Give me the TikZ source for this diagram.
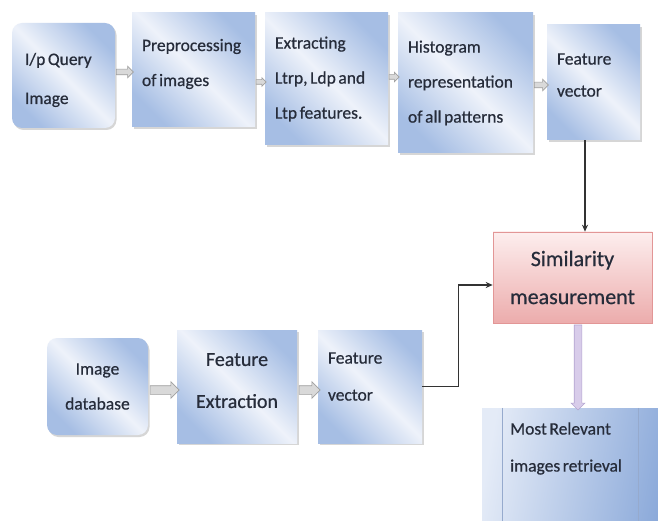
\documentclass[tikz,border=0pt]{standalone}
\usepackage{fontspec}
\setmainfont{Carlito}[FakeBold=0.6, WordSpace=0.65]
\usetikzlibrary{shapes.arrows,shadows,arrows.meta}
\definecolor{bdark}{RGB}{166,190,228}
\definecolor{blight}{RGB}{238,242,250}
\definecolor{txt}{RGB}{38,44,58}
\definecolor{pinktop}{RGB}{253,238,238}
\definecolor{pinkbot}{RGB}{236,172,172}
\definecolor{pinkline}{RGB}{226,150,150}
\definecolor{lavfill}{RGB}{216,204,234}
\definecolor{lavline}{RGB}{180,165,208}
\definecolor{relline}{RGB}{150,170,205}
\definecolor{relleft}{RGB}{228,235,247}
\definecolor{relright}{RGB}{140,170,218}
\begin{document}
\begin{tikzpicture}[x=1pt,y=-1pt,
  box/.style={shade, top color=bdark, bottom color=bdark, middle color=blight,
    shading angle=-45, inner sep=0pt, align=left, text=txt,
    font=\fontsize{17.5}{35}\selectfont,
    execute at begin node={\spaceskip=0pt\xspaceskip=0pt\relax},
    drop shadow={shadow xshift=1.5pt, shadow yshift=-2pt, fill=black!40, opacity=0.4}},
  simbox/.style={shade, top color=pinktop, bottom color=pinkbot, draw=pinkline,
    line width=0.6pt, inner sep=0pt, align=center, text=txt,
    font=\fontsize{22}{38}\selectfont},
  relbox/.style={shade, left color=relleft, right color=relright, shading angle=80, inner sep=0pt},
  barrow/.style={single arrow, single arrow head indent=0pt, fill=gray!30, draw=gray!75,
    line width=0.6pt, inner sep=2.5pt, single arrow head extend=3pt},
  varrow/.style={single arrow, single arrow head indent=0pt, fill=lavfill, draw=lavline,
    line width=0.6pt, inner sep=3.5pt, single arrow head extend=3pt, shape border rotate=270},
  conn/.style={draw=black!80, line width=1.1pt, -{Stealth[length=7pt,width=6pt]}}
]
\clip (0,0) rectangle (658,521);
\fill[white] (0,0) rectangle (658,521);

% top row
\node[box, rounded corners=10pt, minimum width=103pt, minimum height=105pt, text width=77pt,
  font=\fontsize{17.5}{39}\selectfont, text height=21pt]
  (q) at (63.5,75.5) {I/p Query\\Image};
\node[box, minimum width=123pt, minimum height=114pt, text width=103pt, text depth=50pt]
  (pre) at (193.5,70) {Preprocessing\\of images};
\node[box, minimum width=123pt, minimum height=132pt, text width=103pt]
  (ext) at (326.5,79) {Extracting\\Ltrp, Ldp and\\Ltp features.};
\node[box, minimum width=135pt, minimum height=140pt, text width=115pt]
  (hist) at (465.5,83) {Histogram\\representation\\of all patterns};
\node[box, minimum width=93pt, minimum height=115pt, text width=73pt,
  font=\fontsize{17.5}{32}\selectfont, text depth=47pt]
  (fv1) at (593.5,82.5) {Feature\\vector};

% similarity
\node[simbox, minimum width=159pt, minimum height=91pt]
  (sim) at (572.5,277.5) {Similarity\\measurement};

% bottom row
\node[box, rounded corners=10pt, align=center, minimum width=101pt, minimum height=97pt, text width=81pt]
  (db) at (97.5,386.5) {Image\\database};
\node[box, align=center, minimum width=120pt, minimum height=113pt, text width=100pt,
  font=\fontsize{20}{42}\selectfont, text depth=54pt]
  (fe) at (237,386.5) {Feature\\Extraction};
\node[box, minimum width=104pt, minimum height=113pt, text width=84pt,
  font=\fontsize{17.5}{37}\selectfont, text depth=57pt]
  (fv2) at (370,386.5) {Feature\\vector};

% result
\node[relbox, minimum width=186pt, minimum height=127pt] (rel) at (575,471.5) {};
\draw[relline, line width=0.6pt] ([xshift=20pt]rel.north west) -- ([xshift=20pt]rel.south west);
\draw[relline, line width=0.6pt] ([xshift=156pt]rel.north west) -- ([xshift=156pt]rel.south west);
\node[anchor=west, align=left, inner sep=0pt, text=txt, font=\fontsize{17.5}{37}\selectfont]
  (reltxt) at (510,448.5) {Most Relevant\\images retrieval};

% block arrows
\path (q.east |- 0,72) -- node[barrow, minimum height=17pt]{} (pre.west |- 0,72);
\path (pre.east |- 0,82) -- node[barrow, minimum height=10pt, inner sep=2pt, single arrow head extend=2pt]{} (ext.west |- 0,82);
\path (ext.east |- 0,77) -- node[barrow, minimum height=10pt, inner sep=2pt, single arrow head extend=2.5pt]{} (hist.west |- 0,77);
\path (hist.east |- 0,85) -- node[barrow, minimum height=14pt]{} (fv1.west |- 0,85);
\path (db.east |- 0,390) -- node[barrow, minimum height=29pt, inner sep=4pt, single arrow head extend=4pt]{} (fe.west |- 0,390);
\path (fe.east |- 0,390) -- node[barrow, minimum height=21pt, inner sep=4pt, single arrow head extend=4pt]{} (fv2.west |- 0,390);

% lavender arrow
\path (sim.south -| 578,0) -- node[varrow, minimum height=85pt]{} (rel.north -| 578,0);

% connectors
\draw[conn] (fv1.south -| 585,0) -- (sim.north -| 585,0);
\draw[conn] (fv2.east) -- ++(36,0) |- (sim.west |- 0,285);
\end{tikzpicture}
\end{document}
